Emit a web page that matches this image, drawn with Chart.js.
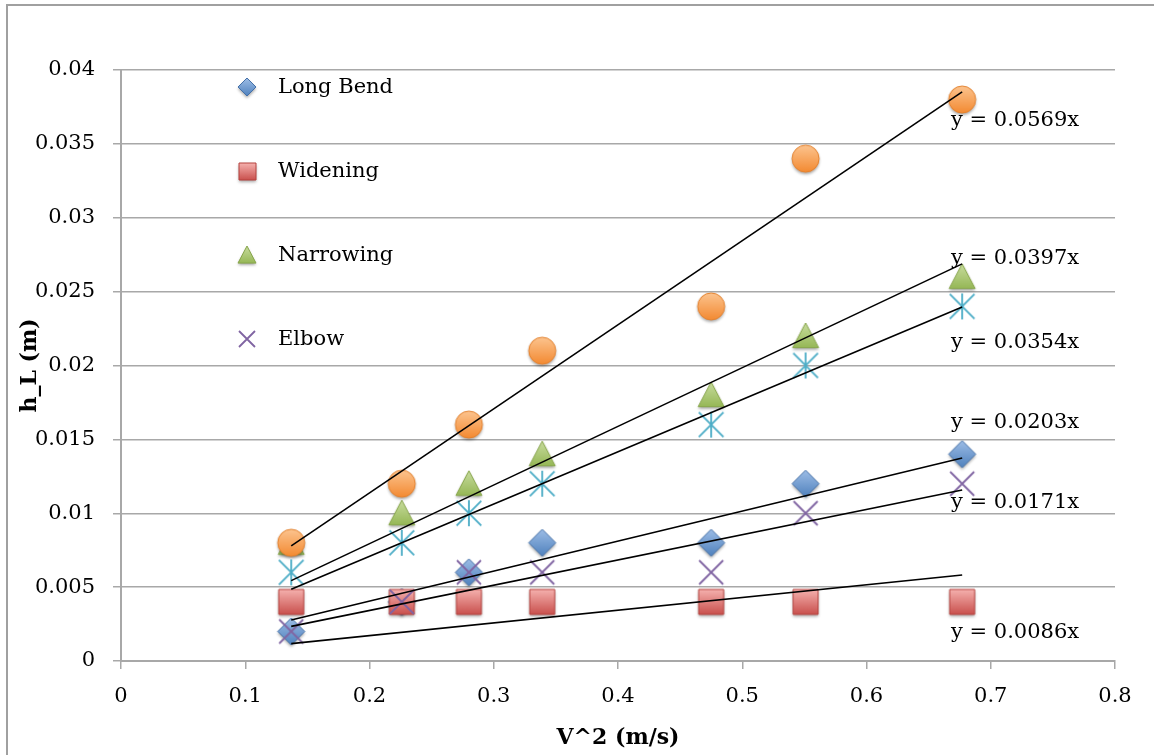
<!DOCTYPE html>
<html>
<head>
<meta charset="utf-8">
<title>h_L vs V^2</title>
<script src="https://cdn.jsdelivr.net/npm/chart.js@4.4.1/dist/chart.umd.min.js"></script>
<style>
  html, body { margin: 0; padding: 0; background: #fff; }
  canvas { display: block; }
</style>
</head>
<body>
<canvas id="chart" width="1154" height="755"></canvas>
<script>
// ---- data ----
const xVals = [0.137, 0.226, 0.280, 0.339, 0.475, 0.551, 0.677];

const longBend  = [0.002, 0.004, 0.006, 0.008, 0.008, 0.012, 0.014];
const widening  = [0.004, 0.004, 0.004, 0.004, 0.004, 0.004, 0.004];
const narrowing = [0.008, 0.010, 0.012, 0.014, 0.018, 0.022, 0.026];
const elbow     = [0.002, 0.004, 0.006, 0.006, 0.006, 0.010, 0.012];
const orangeSet = [0.008, 0.012, 0.016, 0.021, 0.024, 0.034, 0.038];
const cyanSet   = [0.006, 0.008, 0.010, 0.012, 0.016, 0.020, 0.024];

const legendNames = ["Long Bend", "Widening", "Narrowing", "Elbow"];

// trendlines through origin (slope shown on the chart)
const trendSlopes = [0.0569, 0.0397, 0.0354, 0.0203, 0.0171, 0.0086];
const trendLabels = ["y = 0.0569x", "y = 0.0397x", "y = 0.0354x", "y = 0.0203x", "y = 0.0171x", "y = 0.0086x"];

// where each trend label sits (data units, left edge / middle)
const trendLabelX = 0.6680;
const trendLabelY = [0.03660, 0.02727, 0.02152, 0.01617, 0.01071, 0.00191];

const yTicks = { min: 0, max: 0.04, step: 0.005 };
const xTicks = { min: 0, max: 0.8, step: 0.1 };

// ---- marker pictures (gradient + soft shadow like the Excel markers) ----
function makeMarker(kind, size, colors) {
  const pad = 6;
  const c = document.createElement("canvas");
  c.width = c.height = size + pad * 2;
  const g = c.getContext("2d");
  const m = c.width / 2, h = size / 2;
  g.translate(m, m);

  if (kind === "x" || kind === "star") {
    g.strokeStyle = colors[0];
    g.lineWidth = 1.8;
    g.beginPath();
    const d = kind === "star" ? h * 0.95 : h;
    g.moveTo(-d, -d); g.lineTo(d, d);
    g.moveTo(d, -d); g.lineTo(-d, d);
    if (kind === "star") { g.moveTo(0, -h); g.lineTo(0, h); }
    g.stroke();
    return c;
  }

  g.beginPath();
  if (kind === "diamond") {
    g.moveTo(0, -h); g.lineTo(h, 0); g.lineTo(0, h); g.lineTo(-h, 0); g.closePath();
  } else if (kind === "square") {
    g.rect(-h, -h, size, size);
  } else if (kind === "triangle") {
    g.moveTo(0, -h); g.lineTo(h, h * 0.9); g.lineTo(-h, h * 0.9); g.closePath();
  } else {
    g.arc(0, 0, h, 0, Math.PI * 2);
  }
  const grad = g.createLinearGradient(0, -h, 0, h);
  grad.addColorStop(0, colors[0]);
  grad.addColorStop(1, colors[1]);
  g.save();
  g.shadowColor = "rgba(0,0,0,0.35)";
  g.shadowBlur = 3;
  g.shadowOffsetY = 2;
  g.fillStyle = grad;
  g.fill();
  g.restore();
  g.strokeStyle = colors[2];
  g.lineWidth = 1;
  g.stroke();
  return c;
}

const blueC   = ["#9dbde6", "#4f81bd", "#4470a8"];
const redC    = ["#f5b1ae", "#c9504d", "#b5423f"];
const greenC  = ["#c8dc9f", "#93b552", "#87a54a"];
const orangeC = ["#fcc48f", "#f38a32", "#e3802c"];
const purpleC = ["#8064a2"];
const cyanC   = ["#4bacc6"];

const mk = {
  longBend:  makeMarker("diamond", 27, blueC),
  widening:  makeMarker("square", 25, redC),
  narrowing: makeMarker("triangle", 26, greenC),
  elbow:     makeMarker("x", 24, purpleC),
  orange:    makeMarker("circle", 27, orangeC),
  cyan:      makeMarker("star", 26, cyanC),
};
const legendMk = [
  makeMarker("diamond", 18, blueC),
  makeMarker("square", 17, redC),
  makeMarker("triangle", 18, greenC),
  makeMarker("x", 16, purpleC),
];

const pts = (ys) => xVals.map((x, i) => ({ x, y: ys[i] }));

function markerSet(label, ys, img, order) {
  return { label, data: pts(ys), pointStyle: img, pointRadius: 13, pointHoverRadius: 13, showLine: false, order };
}

const datasets = [
  markerSet("Long Bend", longBend, mk.longBend, 16),
  markerSet("Widening", widening, mk.widening, 15),
  markerSet("Narrowing", narrowing, mk.narrowing, 14),
  markerSet("Elbow", elbow, mk.elbow, 13),
  markerSet("Series5", orangeSet, mk.orange, 12),
  markerSet("Series6", cyanSet, mk.cyan, 11),
];

const x0 = xVals[0], x1 = xVals[xVals.length - 1];
trendSlopes.forEach((m, i) => {
  datasets.push({
    label: trendLabels[i],
    data: [{ x: x0, y: m * x0 }, { x: x1, y: m * x1 }],
    showLine: true,
    borderColor: "#000",
    borderWidth: 1.6,
    pointRadius: 0,
    pointHoverRadius: 0,
    order: 0,
  });
});

// ---- small plugins ----
const FONT = "'DejaVu Serif', serif";
const gridColor = "#a8a8a8";

const framePlugin = {
  id: "frame",
  beforeDraw(chart) {
    const { ctx, width, height } = chart;
    ctx.save();
    ctx.fillStyle = "#fff";
    ctx.fillRect(0, 0, width, height);
    ctx.strokeStyle = "#a0a0a0";
    ctx.lineWidth = 2;
    ctx.beginPath();
    ctx.moveTo(7, height); ctx.lineTo(7, 5); ctx.lineTo(width, 5);
    ctx.stroke();
    ctx.restore();
  },
};

const trendLabelPlugin = {
  id: "trendLabels",
  afterDatasetsDraw(chart) {
    const { ctx, scales } = chart;
    ctx.save();
    ctx.font = "21px " + FONT;
    ctx.fillStyle = "#000";
    ctx.textAlign = "left";
    ctx.textBaseline = "middle";
    trendLabels.forEach((t, i) => {
      ctx.fillText(t, scales.x.getPixelForValue(trendLabelX), scales.y.getPixelForValue(trendLabelY[i]));
    });
    ctx.restore();
  },
};

const legendPlugin = {
  id: "insideLegend",
  afterDraw(chart) {
    const { ctx, chartArea } = chart;
    const mx = chartArea.left + 126;
    ctx.save();
    ctx.font = "21px " + FONT;
    ctx.fillStyle = "#000";
    ctx.textAlign = "left";
    ctx.textBaseline = "middle";
    legendNames.forEach((name, i) => {
      const my = chartArea.top + 17 + i * 84;
      const img = legendMk[i];
      ctx.drawImage(img, Math.round(mx - img.width / 2), Math.round(my - img.height / 2));
      ctx.fillText(name, mx + 31, my + 1);
    });
    ctx.restore();
  },
};

const fmt = (v, d) => (Math.abs(v) < 1e-9 ? "0" : String(Number(v.toFixed(d))));

new Chart(document.getElementById("chart"), {
  type: "scatter",
  data: { datasets },
  options: {
    responsive: false,
    animation: false,
    devicePixelRatio: 1,
    layout: { padding: { left: 0, right: 39, top: 70, bottom: 0 } },
    plugins: { legend: { display: false }, tooltip: { enabled: false } },
    scales: {
      x: {
        type: "linear",
        min: xTicks.min,
        max: xTicks.max,
        ticks: {
          stepSize: xTicks.step,
          color: "#000",
          font: { family: FONT, size: 21 },
          padding: 15,
          maxRotation: 0,
          callback: (v) => fmt(v, 1),
        },
        grid: { drawOnChartArea: false, drawTicks: true, tickLength: 8, color: gridColor, lineWidth: 1.5 },
        border: { color: gridColor, width: 2 },
        title: { display: true, text: "V^2 (m/s)", color: "#000", font: { family: FONT, size: 22, weight: "bold" }, padding: { top: 0, bottom: 4 } },
        afterFit: (s) => { s.height = 94; },
      },
      y: {
        type: "linear",
        min: yTicks.min,
        max: yTicks.max,
        ticks: {
          stepSize: yTicks.step,
          color: "#000",
          font: { family: FONT, size: 21 },
          padding: 18,
          callback: (v) => fmt(v, 3),
        },
        grid: { color: gridColor, lineWidth: 1.5, tickLength: 8 },
        border: { color: gridColor, width: 2 },
        title: { display: true, text: "h_L (m)", color: "#000", font: { family: FONT, size: 22, weight: "bold" }, padding: { top: 17, bottom: 0 } },
        afterFit: (s) => { s.width = 121; },
      },
    },
  },
  plugins: [framePlugin, trendLabelPlugin, legendPlugin],
});
</script>
</body>
</html>
